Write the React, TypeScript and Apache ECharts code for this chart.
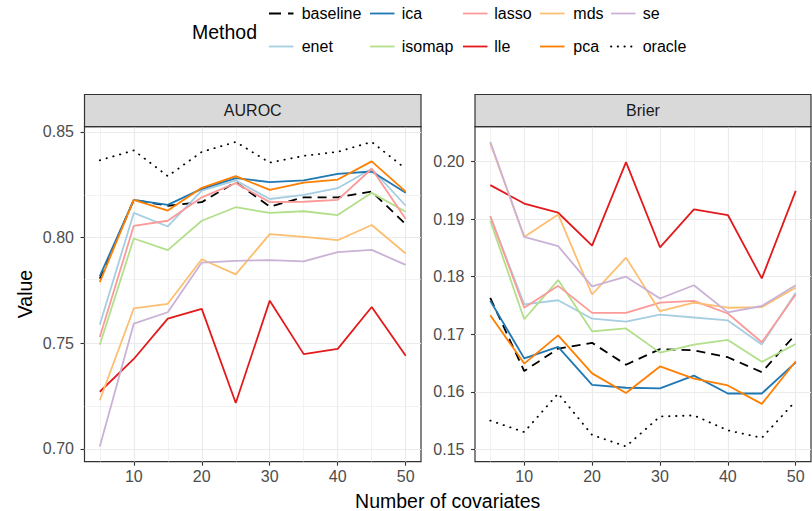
import React, { useEffect, useRef } from 'react';
import * as echarts from 'echarts';

const covariates = [5, 10, 15, 20, 25, 30, 35, 40, 45, 50];
const methods = ['baseline', 'enet', 'ica', 'isomap', 'lasso', 'lle', 'mds', 'pca', 'se', 'oracle'];
const methodColors = ['#000000', '#A6CEE3', '#1F78B4', '#B2DF8A', '#FB9A99', '#E31A1C', '#FDBF6F', '#FF7F00', '#CAB2D6', '#000000'];
const panelNames = ['AUROC', 'Brier'];

// AUROC values
const aurocBaseline = [0.7805, 0.8178, 0.8150, 0.8167, 0.8262, 0.8146, 0.8190, 0.8190, 0.8217, 0.8063];
const aurocEnet = [0.7587, 0.8116, 0.8052, 0.8222, 0.8270, 0.8182, 0.8201, 0.8233, 0.8325, 0.8150];
const aurocIca = [0.7817, 0.8178, 0.8154, 0.8230, 0.8281, 0.8262, 0.8270, 0.8301, 0.8312, 0.8211];
const aurocIsomap = [0.7492, 0.7995, 0.7940, 0.8079, 0.8143, 0.8116, 0.8124, 0.8106, 0.8211, 0.8122];
const aurocLasso = [0.7529, 0.8055, 0.8079, 0.8190, 0.8257, 0.8167, 0.8169, 0.8178, 0.8325, 0.8087];
const aurocLle = [0.7270, 0.7425, 0.7616, 0.7662, 0.7217, 0.7701, 0.7448, 0.7473, 0.7671, 0.7440];
const aurocMds = [0.7230, 0.7664, 0.7686, 0.7897, 0.7825, 0.8016, 0.8003, 0.7987, 0.8059, 0.7924];
const aurocPca = [0.7789, 0.8178, 0.8127, 0.8235, 0.8290, 0.8225, 0.8259, 0.8274, 0.8360, 0.8217];
const aurocSe = [0.7011, 0.7592, 0.7646, 0.7881, 0.7889, 0.7893, 0.7887, 0.7931, 0.7941, 0.7870];
const aurocOracle = [0.8365, 0.8412, 0.8290, 0.8405, 0.8452, 0.8354, 0.8386, 0.8405, 0.8452, 0.8325];

// Brier values
const brierBaseline = [0.1763, 0.1636, 0.1675, 0.1685, 0.1647, 0.1674, 0.1672, 0.1660, 0.1634, 0.1700];
const brierEnet = [0.1905, 0.1752, 0.1759, 0.1727, 0.1722, 0.1734, 0.1729, 0.1724, 0.1682, 0.1772];
const brierIca = [0.1758, 0.1658, 0.1678, 0.1612, 0.1607, 0.1606, 0.1628, 0.1597, 0.1597, 0.1651];
const brierIsomap = [0.1897, 0.1726, 0.1794, 0.1705, 0.1710, 0.1668, 0.1682, 0.1690, 0.1652, 0.1683];
const brierLasso = [0.1905, 0.1746, 0.1784, 0.1737, 0.1737, 0.1755, 0.1758, 0.1736, 0.1686, 0.1769];
const brierLle = [0.1959, 0.1927, 0.1911, 0.1854, 0.1999, 0.1851, 0.1917, 0.1907, 0.1797, 0.1949];
const brierMds = [0.2032, 0.1869, 0.1908, 0.1769, 0.1833, 0.1740, 0.1755, 0.1746, 0.1747, 0.1781];
const brierPca = [0.1733, 0.1649, 0.1698, 0.1632, 0.1598, 0.1644, 0.1623, 0.1611, 0.1579, 0.1653];
const brierSe = [0.2034, 0.1869, 0.1853, 0.1783, 0.1800, 0.1762, 0.1785, 0.1738, 0.1749, 0.1785];
const brierOracle = [0.1550, 0.1530, 0.1597, 0.1525, 0.1505, 0.1557, 0.1559, 0.1533, 0.1520, 0.1584];

const xMajorTicks = [10, 20, 30, 40, 50];
const xMinorTicks = [5, 15, 25, 35, 45];
const aurocMajorTicks = [0.70, 0.75, 0.80, 0.85];
const aurocMinorTicks = [0.725, 0.775, 0.825];
const brierMajorTicks = [0.15, 0.16, 0.17, 0.18, 0.19, 0.20];
const brierMinorTicks = [0.155, 0.165, 0.175, 0.185, 0.195, 0.205];

const aurocSeries = [aurocBaseline, aurocEnet, aurocIca, aurocIsomap, aurocLasso, aurocLle, aurocMds, aurocPca, aurocSe, aurocOracle];
const brierSeries = [brierBaseline, brierEnet, brierIca, brierIsomap, brierLasso, brierLle, brierMds, brierPca, brierSe, brierOracle];

const FONT = "'Liberation Sans', Arial, Helvetica, sans-serif";

function expandRange(values: number[]) {
  const lo = Math.min(...values);
  const hi = Math.max(...values);
  const pad = (hi - lo) * 0.05;
  return [lo - pad, hi + pad];
}

function lineType(m: string): any {
  if (m === 'baseline') return [9, 6];
  if (m === 'oracle') return [0.4, 6.6];
  return 'solid';
}

export default function App() {
  const ref = useRef<HTMLDivElement>(null);

  useEffect(() => {
    if (!ref.current) return;
    const chart = echarts.init(ref.current, undefined, { renderer: 'svg' });

    const xr = expandRange(covariates);
    const ar = expandRange(aurocSeries.flat());
    const br = expandRange(brierSeries.flat());

    const grids = [
      { left: 84.5, top: 126.7, width: 336.5, height: 335 },
      { left: 475, top: 126.7, width: 336, height: 335 },
    ];

    const xAxes = [0, 1].map((i) => ({
      type: 'value',
      gridIndex: i,
      min: xr[0],
      max: xr[1],
      axisLine: { show: false },
      splitLine: { show: false },
      axisTick: { show: true, customValues: xMajorTicks, length: 4, lineStyle: { color: '#333333', width: 1.1 } },
      axisLabel: { show: true, customValues: xMajorTicks, color: '#4d4d4d', fontSize: 16, fontFamily: FONT, margin: 7 },
    }));

    const yAxes = [
      { range: ar, ticks: aurocMajorTicks },
      { range: br, ticks: brierMajorTicks },
    ].map((a, i) => ({
      type: 'value',
      gridIndex: i,
      min: a.range[0],
      max: a.range[1],
      axisLine: { show: false },
      splitLine: { show: false },
      axisTick: { show: true, customValues: a.ticks, length: 4, lineStyle: { color: '#333333', width: 1.1 } },
      axisLabel: {
        show: true,
        customValues: a.ticks,
        color: '#4d4d4d',
        fontSize: 16,
        fontFamily: FONT,
        margin: 10.5,
        formatter: (v: number) => v.toFixed(2),
      },
    }));

    const gridLineSeries = [0, 1].map((i) => {
      const yMaj = i === 0 ? aurocMajorTicks : brierMajorTicks;
      const yMin = i === 0 ? aurocMinorTicks : brierMinorTicks;
      const yr = i === 0 ? ar : br;
      const data: any[] = [];
      xMinorTicks.forEach((v) => data.push({ xAxis: v, lineStyle: { color: '#ebebeb', width: 0.6, type: 'solid' } }));
      yMin.filter((v) => v > yr[0] && v < yr[1]).forEach((v) => data.push({ yAxis: v, lineStyle: { color: '#ebebeb', width: 0.6, type: 'solid' } }));
      xMajorTicks.forEach((v) => data.push({ xAxis: v, lineStyle: { color: '#ebebeb', width: 1.2, type: 'solid' } }));
      yMaj.forEach((v) => data.push({ yAxis: v, lineStyle: { color: '#ebebeb', width: 1.2, type: 'solid' } }));
      return {
        type: 'line',
        xAxisIndex: i,
        yAxisIndex: i,
        data: [],
        z: 0,
        silent: true,
        markLine: {
          silent: true,
          z: 0,
          symbol: ['none', 'none'],
          label: { show: false },
          emphasis: { disabled: true },
          data,
        },
      };
    });

    const dataSeries: any[] = [];
    [aurocSeries, brierSeries].forEach((set, pi) => {
      methods.forEach((m, mi) => {
        dataSeries.push({
          type: 'line',
          name: m + '-' + panelNames[pi],
          xAxisIndex: pi,
          yAxisIndex: pi,
          data: covariates.map((c, k) => [c, set[mi][k]]),
          symbol: 'none',
          showSymbol: false,
          silent: true,
          z: 2,
          lineStyle: { color: methodColors[mi], width: 1.8, type: lineType(m), cap: m === 'oracle' ? 'round' : 'butt' },
        });
      });
    });

    // legend (column-major, 2 rows)
    const legendKeyX = [269, 370, 463, 540, 611];
    const legendTextX = [301.7, 401.7, 494.3, 573.3, 642.7];
    const legendRowY = [13.5, 46.5];
    const graphics: any[] = [];
    methods.forEach((m, mi) => {
      const col = Math.floor(mi / 2);
      const row = mi % 2;
      graphics.push({
        type: 'line',
        shape: { x1: legendKeyX[col], y1: legendRowY[row], x2: legendKeyX[col] + 24.5, y2: legendRowY[row] },
        style: {
          stroke: methodColors[mi],
          lineWidth: 1.8,
          lineCap: m === 'oracle' ? 'round' : 'butt',
          lineDash: m === 'baseline' ? [12, 7] : m === 'oracle' ? [0.4, 6.3] : null,
        },
      });
      graphics.push({
        type: 'text',
        x: legendTextX[col],
        y: legendRowY[row],
        style: { text: m, fill: '#000000', fontSize: 16, fontFamily: FONT, textAlign: 'left', textVerticalAlign: 'middle', align: 'left', verticalAlign: 'middle' },
      });
    });
    graphics.push({
      type: 'text',
      x: 192,
      y: 31.5,
      style: { text: 'Method', fill: '#000000', fontSize: 19.5, fontFamily: FONT, textAlign: 'left', textVerticalAlign: 'middle', align: 'left', verticalAlign: 'middle' },
    });

    // strips
    grids.forEach((g, i) => {
      graphics.push({
        type: 'rect',
        shape: { x: g.left, y: 94.5, width: g.width, height: g.top - 94.5 },
        style: { fill: '#d9d9d9', stroke: '#333333', lineWidth: 1.2 },
        z: 10,
      });
      graphics.push({
        type: 'text',
        x: g.left + g.width / 2,
        y: (94.5 + g.top) / 2,
        z: 11,
        style: { text: panelNames[i], fill: '#1a1a1a', fontSize: 16, fontFamily: FONT, textAlign: 'center', textVerticalAlign: 'middle', align: 'center', verticalAlign: 'middle' },
      });
    });

    // axis titles
    graphics.push({
      type: 'text',
      x: 447.7,
      y: 500.5,
      style: { text: 'Number of covariates', fill: '#000000', fontSize: 19.5, fontFamily: FONT, textAlign: 'center', textVerticalAlign: 'middle', align: 'center', verticalAlign: 'middle' },
    });
    graphics.push({
      type: 'text',
      x: 25,
      y: 294,
      rotation: Math.PI / 2,
      style: { text: 'Value', fill: '#000000', fontSize: 19.5, fontFamily: FONT, textAlign: 'center', textVerticalAlign: 'middle', align: 'center', verticalAlign: 'middle' },
    });

    chart.setOption({
      animation: false,
      backgroundColor: '#ffffff',
      grid: grids.map((g) => ({ ...g, show: true, borderColor: '#333333', borderWidth: 1.2, backgroundColor: 'transparent', containLabel: false })),
      xAxis: xAxes,
      yAxis: yAxes,
      series: [...gridLineSeries, ...dataSeries],
      graphic: graphics,
    });

    return () => chart.dispose();
  }, []);

  return <div ref={ref} style={{ position: 'fixed', left: 0, top: 0, width: 812, height: 511, background: '#fff' }} />;
}
